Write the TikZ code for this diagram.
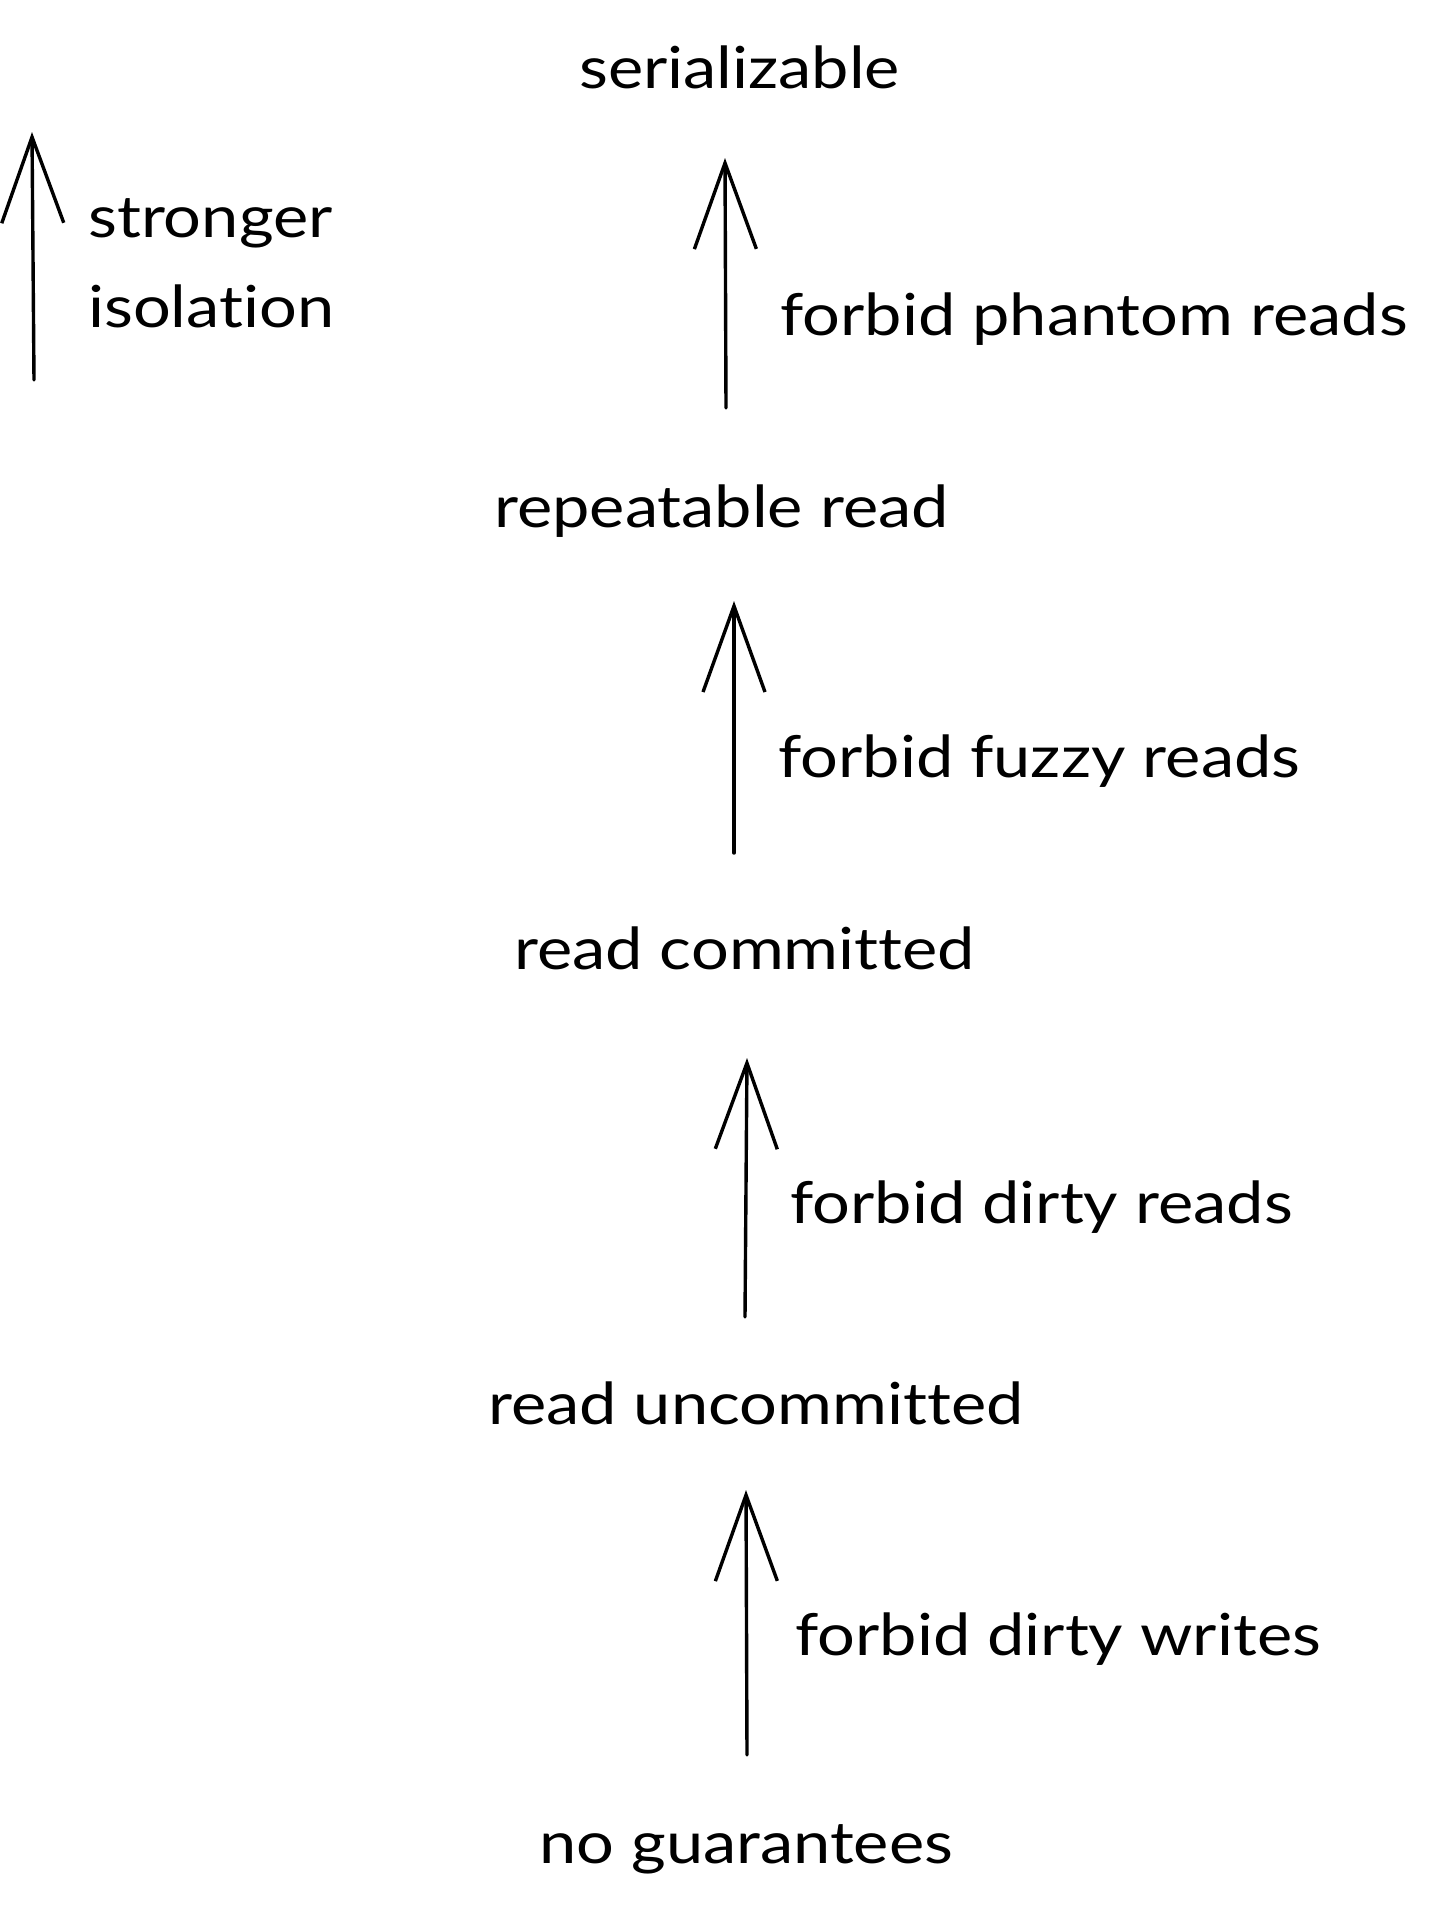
\documentclass[tikz,border=0pt]{standalone}
\usepackage{fontspec}
\setmainfont{Lato}[FakeStretch=1.15, RawFeature={-liga;-dlig;-clig}]
\usetikzlibrary{arrows.meta}
\tikzset{
  lbl/.style={inner sep=0pt, anchor=base west, font=\fontsize{58}{60}\selectfont},
  uparrow/.style={line width=3.4pt, line cap=round, -{Straight Barb[length=86pt,width=62pt,line width=3.4pt]}}
}
\begin{document}
\begin{tikzpicture}[x=1pt,y=-1pt]
\useasboundingbox[fill=white] (0,0) rectangle (1436,1912);
% labels
\node[lbl] (ser) at (579,88) {serializable};
\node[lbl] (str) at (88,237) {stronger};
\node[lbl] (iso) at (88,327) {isolation};
\node[lbl] (fpr) at (780,335) {forbid phantom reads};
\node[lbl] (rr) at (494,527) {repeatable read};
\node[lbl] (ffr) at (778,777) {forbid fuzzy reads};
\node[lbl] (rc) at (514,969) {read committed};
\node[lbl] (fdr) at (790,1223) {forbid dirty reads};
\node[lbl] (ru) at (488,1424) {read uncommitted};
\node[lbl] (fdw) at (795,1655) {forbid dirty writes};
\node[lbl] (ng) at (539,1863) {no guarantees};
% arrow end points
\coordinate (a1s) at (34,380);  \coordinate (a1e) at (32,132);
\coordinate (a2s) at (726,408); \coordinate (a2e) at (725,158);
\coordinate (a3s) at (734,853); \coordinate (a3e) at (734,601);
\coordinate (a4s) at (745,1317); \coordinate (a4e) at (747,1058);
\coordinate (a5s) at (747,1755); \coordinate (a5e) at (746,1490);
\draw[uparrow] (a1s) -- (a1e);
\draw[uparrow] (a2s) -- (a2e);
\draw[uparrow] (a3s) -- (a3e);
\draw[uparrow] (a4s) -- (a4e);
\draw[uparrow] (a5s) -- (a5e);
\end{tikzpicture}
\end{document}
